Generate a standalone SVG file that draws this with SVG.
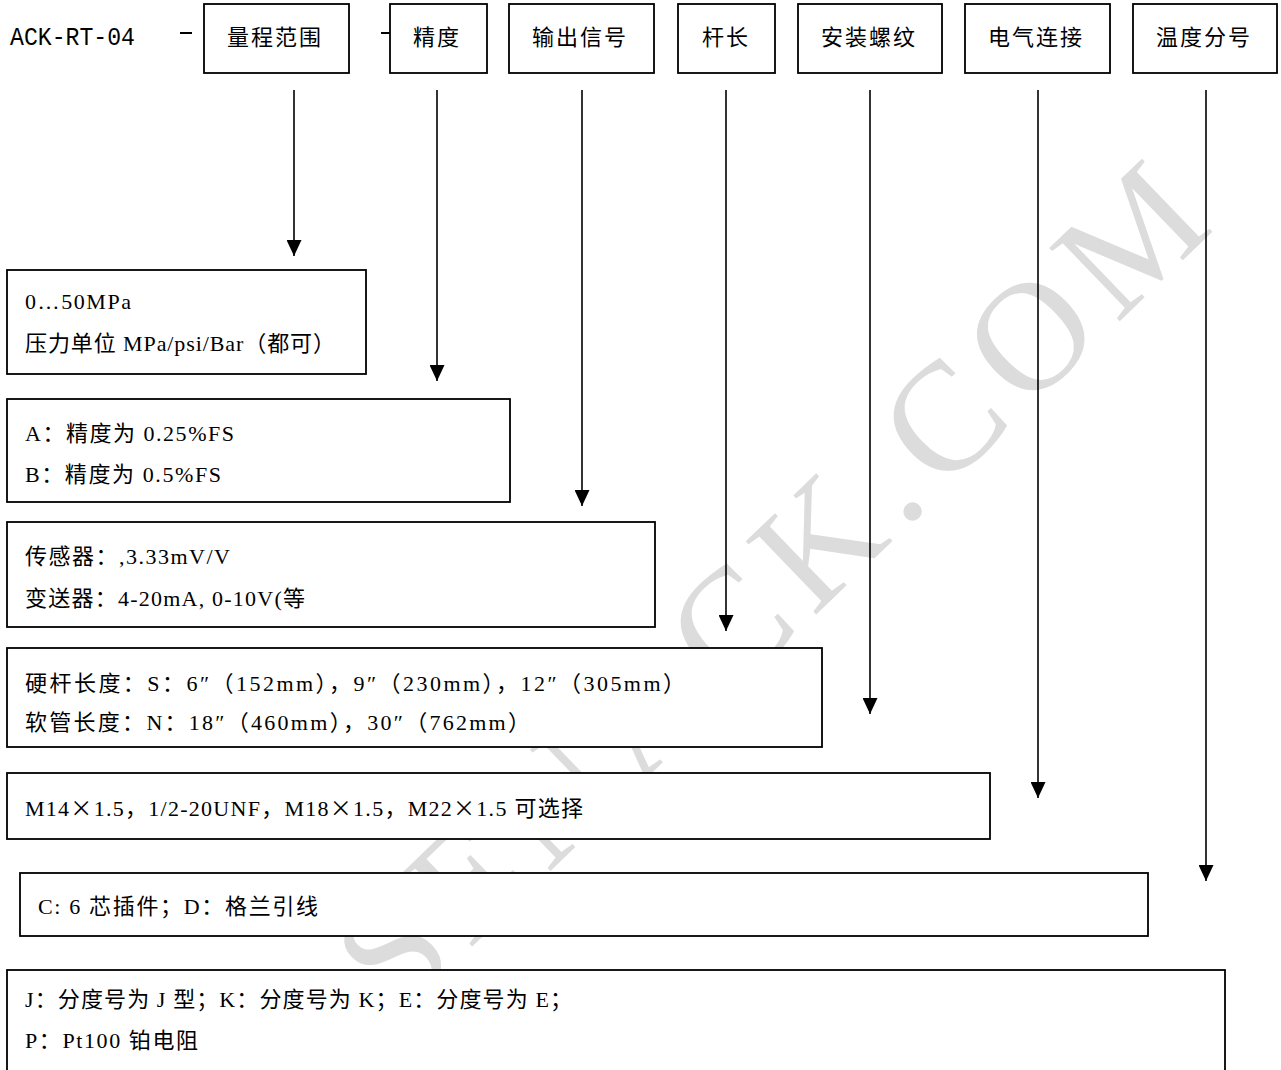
<svg xmlns="http://www.w3.org/2000/svg" width="1281" height="1070" viewBox="0 0 1281 1070">
<defs>
<style>
.box{fill:#fff;stroke:#000;stroke-width:1.8}
.hd{font-family:"Liberation Serif","Noto Sans CJK SC",serif;font-size:22px;fill:#000}
.tx{font-family:"Liberation Serif","Noto Sans CJK SC",serif;font-size:22px;fill:#000}
.cj{font-family:"Noto Sans CJK SC",sans-serif}
.ln{stroke:#000;stroke-width:1.6;fill:none;marker-end:url(#ah)}
.wm{font-family:"Liberation Serif",serif;font-size:155px;letter-spacing:14px;fill:#dcdcdc}
</style>
<marker id="ah" markerUnits="userSpaceOnUse" markerWidth="16" markerHeight="15" refX="16" refY="7.5" orient="auto" viewBox="0 0 16 15">
<path d="M0,0 L16,7.5 L0,15 Z" fill="#000"/>
</marker>
</defs>
<rect width="1281" height="1070" fill="#fff"/>
<g id="watermark">
<text class="wm" transform="translate(397,1019) rotate(-44)">SENACK.COM</text>
</g>
<g id="header">
<text x="10" y="45" font-family="Liberation Mono,monospace" font-size="25" textLength="125" lengthAdjust="spacingAndGlyphs">ACK-RT-04</text>
<line x1="180" y1="33" x2="192" y2="33" stroke="#000" stroke-width="2"/>
<line x1="381" y1="33" x2="390" y2="33" stroke="#000" stroke-width="2"/>
</g>
<g id="connectors">
<line class="ln" x1="294" y1="90" x2="294" y2="256"/>
<line class="ln" x1="437" y1="90" x2="437" y2="381"/>
<line class="ln" x1="582" y1="90" x2="582" y2="506"/>
<line class="ln" x1="726" y1="90" x2="726" y2="631"/>
<line class="ln" x1="870" y1="90" x2="870" y2="714"/>
<line class="ln" x1="1038" y1="90" x2="1038" y2="798"/>
<line class="ln" x1="1206" y1="90" x2="1206" y2="881"/>
</g>
<g id="h-range"><rect class="box" x="204" y="4" width="145" height="69"/><text class="hd" x="227" y="45" textLength="94">量程范围</text></g>
<g id="h-accuracy"><rect class="box" x="390" y="4" width="97" height="69"/><text class="hd" x="413" y="45" textLength="46">精度</text></g>
<g id="h-output"><rect class="box" x="509" y="4" width="145" height="69"/><text class="hd" x="532" y="45" textLength="94">输出信号</text></g>
<g id="h-rod"><rect class="box" x="678" y="4" width="97" height="69"/><text class="hd" x="702" y="45" textLength="46">杆长</text></g>
<g id="h-thread"><rect class="box" x="798" y="4" width="144" height="69"/><text class="hd" x="821" y="45" textLength="94">安装螺纹</text></g>
<g id="h-elec"><rect class="box" x="965" y="4" width="145" height="69"/><text class="hd" x="988" y="45" textLength="94">电气连接</text></g>
<g id="h-temp"><rect class="box" x="1133" y="4" width="144" height="69"/><text class="hd" x="1156" y="45" textLength="94">温度分号</text></g>
<g id="b-range"><rect class="box" x="7" y="270" width="359" height="104"/>
<text class="tx" x="25" y="309" textLength="106">0…50MPa</text>
<text class="tx" x="25" y="351" textLength="310">压力单位 MPa/psi/Bar（都可）</text></g>
<g id="b-accuracy"><rect class="box" x="7" y="399" width="503" height="103"/>
<text class="tx" x="25" y="441" textLength="209">A：精度为 0.25%FS</text>
<text class="tx" x="25" y="482" textLength="196">B：精度为 0.5%FS</text></g>
<g id="b-output"><rect class="box" x="7" y="522" width="648" height="105"/>
<text class="tx" x="25" y="564" textLength="205">传感器：,3.33mV/V</text>
<text class="tx" x="25" y="606" textLength="280">变送器：4-20mA, 0-10V(等</text></g>
<g id="b-rod"><rect class="box" x="7" y="648" width="815" height="99"/>
<text class="tx" x="25" y="691" textLength="660">硬杆长度：S：6″（152mm），9″（230mm），12″（305mm）</text>
<text class="tx" x="25" y="730" textLength="505">软管长度：N：18″（460mm），30″（762mm）</text></g>
<g id="b-thread"><rect class="box" x="7" y="773" width="983" height="66"/>
<text class="tx" x="25" y="816" textLength="558">M14<tspan class="cj">×</tspan>1.5，1/2-20UNF，M18<tspan class="cj">×</tspan>1.5，M22<tspan class="cj">×</tspan>1.5 可选择</text></g>
<g id="b-elec"><rect class="box" x="20" y="873" width="1128" height="63"/>
<text class="tx" x="38" y="914" textLength="280">C: 6 芯插件；D：格兰引线</text></g>
<g id="b-temp"><rect class="box" x="7" y="970" width="1218" height="110"/>
<text class="tx" x="25" y="1007" textLength="547">J：分度号为 J 型；K：分度号为 K；E：分度号为 E；</text>
<text class="tx" x="25" y="1048" textLength="173">P：Pt100 铂电阻</text></g>
</svg>
